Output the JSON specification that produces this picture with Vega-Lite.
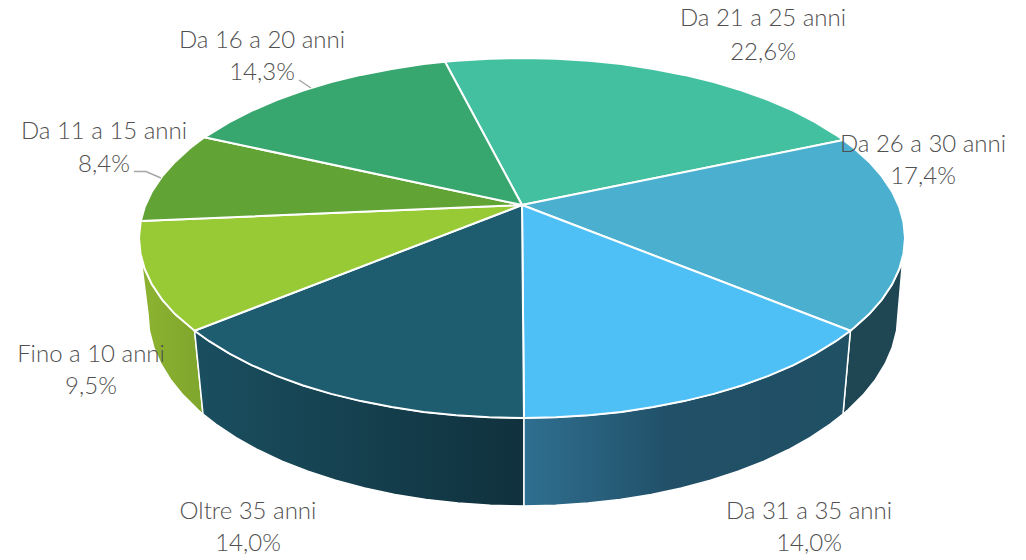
{"$schema":"https://vega.github.io/schema/vega-lite/v6.json","width":1026,"height":560,"autosize":{"type":"fit","contains":"padding"},"padding":0,"background":"white","config":{"view":{"stroke":null}},
"datasets":{
"walls":[
{"s":"fino","i":1,"x":194.6,"y":330.7},{"s":"fino","i":2,"x":175,"y":314.1},{"s":"fino","i":3,"x":162.1,"y":299.6},{"s":"fino","i":4,"x":152,"y":284.6},{"s":"fino","i":5,"x":144.8,"y":269.3},{"s":"fino","i":6,"x":141.6,"y":263},{"s":"fino","i":7,"x":148,"y":314},{"s":"fino","i":8,"x":149.4,"y":330.7},{"s":"fino","i":9,"x":153.7,"y":347.3},{"s":"fino","i":10,"x":160.8,"y":363.7},{"s":"fino","i":11,"x":170.6,"y":379.7},{"s":"fino","i":12,"x":183.1,"y":395.1},{"s":"fino","i":13,"x":198.2,"y":410},{"s":"fino","i":14,"x":203,"y":414},{"s":"fino","i":15,"x":194.6,"y":330.7},
{"s":"oltre","i":1,"x":194.6,"y":330.7},{"s":"oltre","i":2,"x":209.2,"y":341.2},{"s":"oltre","i":3,"x":229.5,"y":353.7},{"s":"oltre","i":4,"x":252,"y":365.3},{"s":"oltre","i":5,"x":276.6,"y":375.9},{"s":"oltre","i":6,"x":303.1,"y":385.5},{"s":"oltre","i":7,"x":331.2,"y":393.9},{"s":"oltre","i":8,"x":360.9,"y":401.1},{"s":"oltre","i":9,"x":391.7,"y":407.1},{"s":"oltre","i":10,"x":423.5,"y":411.9},{"s":"oltre","i":11,"x":456.1,"y":415.3},{"s":"oltre","i":12,"x":489.2,"y":417.3},{"s":"oltre","i":13,"x":524,"y":418},{"s":"oltre","i":14,"x":524,"y":506},{"s":"oltre","i":15,"x":490.3,"y":505.3},{"s":"oltre","i":16,"x":457.9,"y":503.1},{"s":"oltre","i":17,"x":426,"y":499.5},{"s":"oltre","i":18,"x":394.7,"y":494.4},{"s":"oltre","i":19,"x":364.5,"y":488},{"s":"oltre","i":20,"x":335.5,"y":480.3},{"s":"oltre","i":21,"x":307.9,"y":471.3},{"s":"oltre","i":22,"x":282,"y":461.1},{"s":"oltre","i":23,"x":257.8,"y":449.8},{"s":"oltre","i":24,"x":235.7,"y":437.4},{"s":"oltre","i":25,"x":215.8,"y":424.1},{"s":"oltre","i":26,"x":203,"y":414},{"s":"oltre","i":27,"x":194.6,"y":330.7},
{"s":"d31","i":1,"x":524,"y":418},{"s":"d31","i":2,"x":555.8,"y":417.3},{"s":"d31","i":3,"x":588.9,"y":415.3},{"s":"d31","i":4,"x":621.5,"y":411.9},{"s":"d31","i":5,"x":653.3,"y":407.1},{"s":"d31","i":6,"x":684.1,"y":401.1},{"s":"d31","i":7,"x":713.8,"y":393.9},{"s":"d31","i":8,"x":741.9,"y":385.5},{"s":"d31","i":9,"x":768.4,"y":375.9},{"s":"d31","i":10,"x":793,"y":365.3},{"s":"d31","i":11,"x":815.5,"y":353.7},{"s":"d31","i":12,"x":835.8,"y":341.2},{"s":"d31","i":13,"x":850.4,"y":330.7},{"s":"d31","i":14,"x":843,"y":414},{"s":"d31","i":15,"x":830.2,"y":424.1},{"s":"d31","i":16,"x":810.3,"y":437.4},{"s":"d31","i":17,"x":788.2,"y":449.8},{"s":"d31","i":18,"x":764,"y":461.1},{"s":"d31","i":19,"x":738.1,"y":471.3},{"s":"d31","i":20,"x":710.5,"y":480.3},{"s":"d31","i":21,"x":681.5,"y":488},{"s":"d31","i":22,"x":651.3,"y":494.4},{"s":"d31","i":23,"x":620,"y":499.5},{"s":"d31","i":24,"x":588.1,"y":503.1},{"s":"d31","i":25,"x":555.7,"y":505.3},{"s":"d31","i":26,"x":524,"y":506},{"s":"d31","i":27,"x":524,"y":418},
{"s":"d26","i":1,"x":850.4,"y":330.7},{"s":"d26","i":2,"x":869.2,"y":314.1},{"s":"d26","i":3,"x":881.9,"y":299.6},{"s":"d26","i":4,"x":892,"y":284.6},{"s":"d26","i":5,"x":899.2,"y":269.3},{"s":"d26","i":6,"x":902.4,"y":263},{"s":"d26","i":7,"x":898,"y":314},{"s":"d26","i":8,"x":896.6,"y":330.7},{"s":"d26","i":9,"x":892.3,"y":347.3},{"s":"d26","i":10,"x":885.2,"y":363.7},{"s":"d26","i":11,"x":875.4,"y":379.7},{"s":"d26","i":12,"x":862.9,"y":395.1},{"s":"d26","i":13,"x":847.8,"y":410},{"s":"d26","i":14,"x":843,"y":414},{"s":"d26","i":15,"x":850.4,"y":330.7}
],
"tops":[
{"s":"Da 21 a 25 anni","i":0,"x":522,"y":205},{"s":"Da 21 a 25 anni","i":1,"x":445,"y":61.7},{"s":"Da 21 a 25 anni","i":2,"x":456.1,"y":60.7},{"s":"Da 21 a 25 anni","i":3,"x":489.2,"y":58.7},{"s":"Da 21 a 25 anni","i":4,"x":522.5,"y":58},{"s":"Da 21 a 25 anni","i":5,"x":555.8,"y":58.7},{"s":"Da 21 a 25 anni","i":6,"x":588.9,"y":60.7},{"s":"Da 21 a 25 anni","i":7,"x":621.5,"y":64.1},{"s":"Da 21 a 25 anni","i":8,"x":653.3,"y":68.9},{"s":"Da 21 a 25 anni","i":9,"x":684.1,"y":74.9},{"s":"Da 21 a 25 anni","i":10,"x":713.8,"y":82.1},{"s":"Da 21 a 25 anni","i":11,"x":741.9,"y":90.5},{"s":"Da 21 a 25 anni","i":12,"x":768.4,"y":100.1},{"s":"Da 21 a 25 anni","i":13,"x":793,"y":110.7},{"s":"Da 21 a 25 anni","i":14,"x":815.5,"y":122.3},{"s":"Da 21 a 25 anni","i":15,"x":835.8,"y":134.8},{"s":"Da 21 a 25 anni","i":16,"x":843.3,"y":140},{"s":"Da 21 a 25 anni","i":17,"x":522,"y":205},
{"s":"Da 26 a 30 anni","i":0,"x":522,"y":205},{"s":"Da 26 a 30 anni","i":1,"x":843.3,"y":140},{"s":"Da 26 a 30 anni","i":2,"x":853.8,"y":148},{"s":"Da 26 a 30 anni","i":3,"x":869.2,"y":161.9},{"s":"Da 26 a 30 anni","i":4,"x":881.9,"y":176.4},{"s":"Da 26 a 30 anni","i":5,"x":892,"y":191.4},{"s":"Da 26 a 30 anni","i":6,"x":899.2,"y":206.7},{"s":"Da 26 a 30 anni","i":7,"x":903.5,"y":222.3},{"s":"Da 26 a 30 anni","i":8,"x":905,"y":238},{"s":"Da 26 a 30 anni","i":9,"x":903.5,"y":253.7},{"s":"Da 26 a 30 anni","i":10,"x":899.2,"y":269.3},{"s":"Da 26 a 30 anni","i":11,"x":892,"y":284.6},{"s":"Da 26 a 30 anni","i":12,"x":881.9,"y":299.6},{"s":"Da 26 a 30 anni","i":13,"x":869.2,"y":314.1},{"s":"Da 26 a 30 anni","i":14,"x":853.8,"y":328},{"s":"Da 26 a 30 anni","i":15,"x":850.4,"y":330.7},{"s":"Da 26 a 30 anni","i":16,"x":522,"y":205},
{"s":"Da 31 a 35 anni","i":0,"x":522,"y":205},{"s":"Da 31 a 35 anni","i":1,"x":850.4,"y":330.7},{"s":"Da 31 a 35 anni","i":2,"x":835.8,"y":341.2},{"s":"Da 31 a 35 anni","i":3,"x":815.5,"y":353.7},{"s":"Da 31 a 35 anni","i":4,"x":793,"y":365.3},{"s":"Da 31 a 35 anni","i":5,"x":768.4,"y":375.9},{"s":"Da 31 a 35 anni","i":6,"x":741.9,"y":385.5},{"s":"Da 31 a 35 anni","i":7,"x":713.8,"y":393.9},{"s":"Da 31 a 35 anni","i":8,"x":684.1,"y":401.1},{"s":"Da 31 a 35 anni","i":9,"x":653.3,"y":407.1},{"s":"Da 31 a 35 anni","i":10,"x":621.5,"y":411.9},{"s":"Da 31 a 35 anni","i":11,"x":588.9,"y":415.3},{"s":"Da 31 a 35 anni","i":12,"x":555.8,"y":417.3},{"s":"Da 31 a 35 anni","i":13,"x":524,"y":418},{"s":"Da 31 a 35 anni","i":14,"x":522,"y":205},
{"s":"Oltre 35 anni","i":0,"x":522,"y":205},{"s":"Oltre 35 anni","i":1,"x":524,"y":418},{"s":"Oltre 35 anni","i":2,"x":489.2,"y":417.3},{"s":"Oltre 35 anni","i":3,"x":456.1,"y":415.3},{"s":"Oltre 35 anni","i":4,"x":423.5,"y":411.9},{"s":"Oltre 35 anni","i":5,"x":391.7,"y":407.1},{"s":"Oltre 35 anni","i":6,"x":360.9,"y":401.1},{"s":"Oltre 35 anni","i":7,"x":331.2,"y":393.9},{"s":"Oltre 35 anni","i":8,"x":303.1,"y":385.5},{"s":"Oltre 35 anni","i":9,"x":276.6,"y":375.9},{"s":"Oltre 35 anni","i":10,"x":252,"y":365.3},{"s":"Oltre 35 anni","i":11,"x":229.5,"y":353.7},{"s":"Oltre 35 anni","i":12,"x":209.2,"y":341.2},{"s":"Oltre 35 anni","i":13,"x":194.6,"y":330.7},{"s":"Oltre 35 anni","i":14,"x":522,"y":205},
{"s":"Fino a 10 anni","i":0,"x":522,"y":205},{"s":"Fino a 10 anni","i":1,"x":194.6,"y":330.7},{"s":"Fino a 10 anni","i":2,"x":175,"y":314.1},{"s":"Fino a 10 anni","i":3,"x":162.1,"y":299.6},{"s":"Fino a 10 anni","i":4,"x":152,"y":284.6},{"s":"Fino a 10 anni","i":5,"x":144.8,"y":269.3},{"s":"Fino a 10 anni","i":6,"x":140.5,"y":253.7},{"s":"Fino a 10 anni","i":7,"x":139,"y":238},{"s":"Fino a 10 anni","i":8,"x":140.8,"y":221},{"s":"Fino a 10 anni","i":9,"x":522,"y":205},
{"s":"Da 11 a 15 anni","i":0,"x":522,"y":205},{"s":"Da 11 a 15 anni","i":1,"x":140.8,"y":221},{"s":"Da 11 a 15 anni","i":2,"x":144.8,"y":206.7},{"s":"Da 11 a 15 anni","i":3,"x":152,"y":191.4},{"s":"Da 11 a 15 anni","i":4,"x":162.1,"y":176.4},{"s":"Da 11 a 15 anni","i":5,"x":175,"y":161.9},{"s":"Da 11 a 15 anni","i":6,"x":190.2,"y":148},{"s":"Da 11 a 15 anni","i":7,"x":204.4,"y":137.3},{"s":"Da 11 a 15 anni","i":8,"x":522,"y":205},
{"s":"Da 16 a 20 anni","i":0,"x":522,"y":205},{"s":"Da 16 a 20 anni","i":1,"x":204.4,"y":137.3},{"s":"Da 16 a 20 anni","i":2,"x":229,"y":122.3},{"s":"Da 16 a 20 anni","i":3,"x":252,"y":110.7},{"s":"Da 16 a 20 anni","i":4,"x":276.6,"y":100.1},{"s":"Da 16 a 20 anni","i":5,"x":303.1,"y":90.5},{"s":"Da 16 a 20 anni","i":6,"x":331.2,"y":82.1},{"s":"Da 16 a 20 anni","i":7,"x":360.9,"y":74.9},{"s":"Da 16 a 20 anni","i":8,"x":391.7,"y":68.9},{"s":"Da 16 a 20 anni","i":9,"x":423.5,"y":64.1},{"s":"Da 16 a 20 anni","i":10,"x":445,"y":61.7},{"s":"Da 16 a 20 anni","i":11,"x":522,"y":205}
],
"leaders":[
{"s":"a","i":1,"x":299,"y":80},{"s":"a","i":2,"x":311,"y":88},
{"s":"b","i":1,"x":134,"y":171.5},{"s":"b","i":2,"x":146,"y":171.5},{"s":"b","i":3,"x":161,"y":178}
],
"labels":[
{"label":"Da 21 a 25 anni","pct":"22,6%","x":763,"y":19,"y2":53},
{"label":"Da 26 a 30 anni","pct":"17,4%","x":923,"y":145,"y2":177},
{"label":"Da 31 a 35 anni","pct":"14,0%","x":809,"y":512,"y2":544},
{"label":"Oltre 35 anni","pct":"14,0%","x":248,"y":512,"y2":544},
{"label":"Fino a 10 anni","pct":"9,5%","x":91,"y":355,"y2":387},
{"label":"Da 11 a 15 anni","pct":"8,4%","x":104,"y":132,"y2":165},
{"label":"Da 16 a 20 anni","pct":"14,3%","x":262,"y":41,"y2":73}
]},
"encoding":{"x":{"field":"x","type":"quantitative","scale":{"domain":[0,1026],"nice":false,"zero":false},"axis":null},"y":{"field":"y","type":"quantitative","scale":{"domain":[560,0],"nice":false,"zero":false},"axis":null}},
"layer":[
{"data":{"name":"walls"},"transform":[{"filter":"datum.s==='fino'"}],"mark":{"type":"line","filled":true,"stroke":"white","strokeWidth":1.5,"color":{"gradient":"linear","x1":0,"x2":1,"y1":0,"y2":0,"stops":[{"offset":0,"color":"#8cb330"},{"offset":1,"color":"#7fa62d"}]}},"encoding":{"order":{"field":"i","type":"quantitative"}}},
{"data":{"name":"walls"},"transform":[{"filter":"datum.s==='oltre'"}],"mark":{"type":"line","filled":true,"stroke":"white","strokeWidth":1.5,"color":{"gradient":"linear","x1":0,"x2":1,"y1":0,"y2":0,"stops":[{"offset":0,"color":"#1a4f60"},{"offset":1,"color":"#10313d"}]}},"encoding":{"order":{"field":"i","type":"quantitative"}}},
{"data":{"name":"walls"},"transform":[{"filter":"datum.s==='d26'"}],"mark":{"type":"line","filled":true,"stroke":"white","strokeWidth":1.5,"color":"#1e4653"},"encoding":{"order":{"field":"i","type":"quantitative"}}},
{"data":{"name":"walls"},"transform":[{"filter":"datum.s==='d31'"}],"mark":{"type":"line","filled":true,"stroke":"white","strokeWidth":1.5,"color":{"gradient":"linear","x1":0,"x2":1,"y1":0,"y2":0,"stops":[{"offset":0,"color":"#2f6f90"},{"offset":0.45,"color":"#215068"},{"offset":1,"color":"#205064"}]}},"encoding":{"order":{"field":"i","type":"quantitative"}}},
{"data":{"name":"tops"},"mark":{"type":"line","filled":true,"stroke":"white","strokeWidth":2},"encoding":{"order":{"field":"i","type":"quantitative"},"color":{"field":"s","type":"nominal","legend":null,"scale":{"domain":["Da 21 a 25 anni","Da 26 a 30 anni","Da 31 a 35 anni","Oltre 35 anni","Fino a 10 anni","Da 11 a 15 anni","Da 16 a 20 anni"],"range":["#43c0a0","#4bb0d0","#4fc0f5","#1e5d70","#98ca35","#62a335","#38a76f"]}}}},
{"data":{"name":"leaders"},"mark":{"type":"line","stroke":"#a6a6a6","strokeWidth":1.5},"encoding":{"detail":{"field":"s"},"order":{"field":"i","type":"quantitative"}}},
{"data":{"name":"labels"},"mark":{"type":"text","font":"Lato","fontWeight":300,"fontSize":24,"color":"#505050","align":"center","baseline":"middle"},"encoding":{"text":{"field":"label"}}},
{"data":{"name":"labels"},"mark":{"type":"text","font":"Lato","fontWeight":300,"fontSize":24,"color":"#505050","align":"center","baseline":"middle"},"encoding":{"y":{"field":"y2","type":"quantitative"},"text":{"field":"pct"}}}
]}
